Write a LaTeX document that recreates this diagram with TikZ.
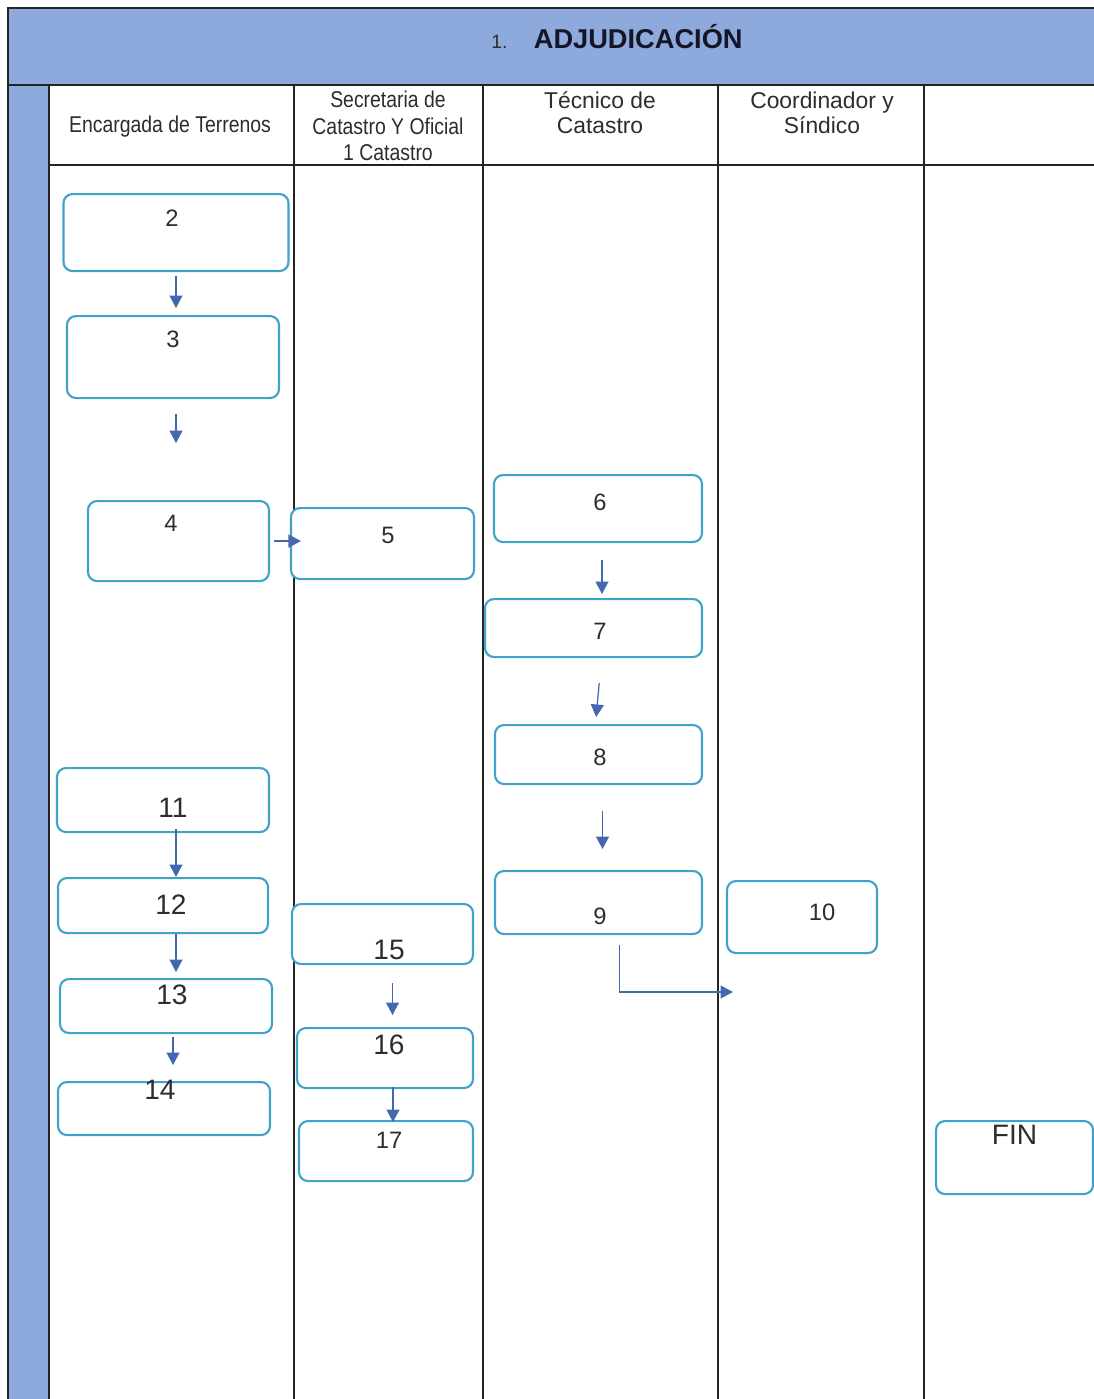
\documentclass[tikz,border=0pt]{standalone}
\usepackage{fontspec}
\setmainfont{Liberation Sans}
\newfontfamily\narrowfont[FakeStretch=0.85]{Liberation Sans}
\usetikzlibrary{arrows.meta}
\definecolor{bandblue}{RGB}{142,169,219}
\definecolor{boxblue}{RGB}{64,162,200}
\definecolor{arrowblue}{RGB}{68,104,176}
\definecolor{framecol}{RGB}{35,35,35}
\definecolor{txtgray}{RGB}{45,45,45}
\definecolor{titlecol}{RGB}{20,22,40}
\newdimen\pxu \pxu=0.02cm

\begin{document}
\begin{tikzpicture}[
  x=0.02cm, y=-0.02cm,
  every node/.style={inner sep=0pt, text=txtgray},
  stepbox/.style={draw=boxblue, line width=1.2pt, rounded corners=9\pxu, anchor=north, fill=white},
  dims/.style n args={3}{minimum width=#1\pxu, text height=#2\pxu, text depth=#3\pxu},
  num/.style={font=\fontsize{13.5}{16}\selectfont},
  bignum/.style={font=\fontsize{16}{19}\selectfont},
  head/.style={align=center, font=\narrowfont\fontsize{13}{15}\selectfont},
  headwide/.style={align=center, font=\fontsize{13}{14.2}\selectfont},
  lane/.style={line width=0.8pt, draw=framecol},
  arr/.style={-{Triangle[length=2.5mm,width=2.6mm]}, line width=0.7pt, arrowblue}
]
\useasboundingbox (0,0) rectangle (1094,1399);
\clip (0,0) rectangle (1094,1399);
\fill[white] (0,0) rectangle (1094,1399);

% frame and lanes
\draw[lane, fill=bandblue] (8,8) rectangle (1110,85);
\draw[lane, fill=bandblue] (8,85) rectangle (49,1410);
\draw[lane] (49,165) -- (1110,165);
\foreach \xl in {294,483,718,924}
  \draw[lane] (\xl,85) -- (\xl,1410);

\node[text=titlecol] (title) at (617,37) {{\color{txtgray}\fontsize{11}{13}\selectfont 1.}\hspace{15pt}{\fontsize{15.5}{18}\selectfont\bfseries ADJUDICACIÓN}};

\node[head] (hEnc) at (170,127) {Encargada de Terrenos};
\node[head] (hSec) at (388,126) {Secretaria de\\Catastro Y Oficial\\1 Catastro};
\node[headwide] (hTec) at (600,113) {Técnico de\\Catastro};
\node[headwide] (hCoo) at (822,113) {Coordinador y\\Síndico};

% steps
\node[stepbox, num, dims={225}{32}{45}] (n2) at (176,193) {2\hspace*{8\pxu}};
\node[stepbox, num, dims={212}{31}{51}] (n3) at (173,315) {3};
\node[stepbox, num, dims={181}{30}{50}] (n4) at (178.5,500) {4\hspace*{15\pxu}};
\node[stepbox, num, dims={183}{35}{36}] (n5) at (382.5,507) {\hspace*{11\pxu}5};
\node[stepbox, num, dims={208}{35}{32}] (n6) at (598,474) {\hspace*{4\pxu}6};
\node[stepbox, num, dims={217}{40}{18}] (n7) at (593.5,598) {\hspace*{13\pxu}7};
\node[stepbox, num, dims={207}{40}{19}] (n8) at (598.5,724) {\hspace*{3\pxu}8};
\node[stepbox, num, dims={207}{53}{10}] (n9) at (598.5,870) {\hspace*{3\pxu}9};
\node[stepbox, num, dims={150}{39}{33}] (n10) at (802,880) {\hspace*{40\pxu}10};
\node[stepbox, bignum, dims={212}{49}{15}] (n11) at (163,767) {\hspace*{20\pxu}11};
\node[stepbox, bignum, dims={210}{36}{19}] (n12) at (163,877) {\hspace*{16\pxu}12};
\node[stepbox, bignum, dims={212}{25}{29}] (n13) at (166,978) {\hspace*{12\pxu}13};
\node[stepbox, bignum, dims={212}{17}{36}] (n14) at (164,1081) {14\hspace*{8\pxu}};
\node[stepbox, bignum, dims={181}{55}{5}] (n15) at (382.5,903) {\hspace*{13\pxu}15};
\node[stepbox, bignum, dims={176}{26}{34}] (n16) at (385,1027) {\hspace*{8\pxu}16};
\node[stepbox, num, dims={174}{27}{33}] (n17) at (386,1120) {\hspace*{6\pxu}17};
\node[stepbox, bignum, dims={157}{23}{50}] (fin) at (1014.5,1120) {FIN};

\coordinate (e10) at (733,992);

% flow
\draw[arr, shorten <=4\pxu, shorten >=7\pxu] (n2.south) -- (n2.south |- n3.north);
\draw[arr, shorten <=15\pxu, shorten >=57\pxu] ([xshift=3\pxu]n3.south) -- ([xshift=3\pxu]n3.south |- n4.north);
\draw[arr, shorten <=4\pxu, shorten >=-11\pxu] (n4.east) -- (n4.east -| n5.west);
\draw[arr, shorten <=17\pxu, shorten >=4\pxu] ([xshift=4\pxu]n6.south) -- ([xshift=4\pxu]n6.south |- n7.north);
\draw[arr, shorten <=25\pxu, shorten >=7\pxu] ([xshift=8\pxu]n7.south) -- ([xshift=-3\pxu]n8.north);
\draw[arr, shorten <=26\pxu, shorten >=21\pxu] ([xshift=4\pxu]n8.south) -- ([xshift=4\pxu]n8.south |- n9.north);
\draw[arr, shorten <=10\pxu] ([xshift=21\pxu]n9.south) |- (e10);
\draw[arr, shorten <=-4\pxu] ([xshift=13\pxu]n11.south) -- ([xshift=13\pxu]n11.south |- n12.north);
\draw[arr, shorten >=6\pxu] ([xshift=13\pxu]n12.south) -- ([xshift=13\pxu]n12.south |- n13.north);
\draw[arr, shorten <=3\pxu, shorten >=16\pxu] ([xshift=7\pxu]n13.south) -- ([xshift=7\pxu]n13.south |- n14.north);
\draw[arr, shorten <=18\pxu, shorten >=12\pxu] ([xshift=10\pxu]n15.south) -- ([xshift=10\pxu]n15.south |- n16.north);
\draw[arr, shorten <=-2\pxu, shorten >=-2\pxu] ([xshift=8\pxu]n16.south) -- ([xshift=8\pxu]n16.south |- n17.north);
\end{tikzpicture}
\end{document}
